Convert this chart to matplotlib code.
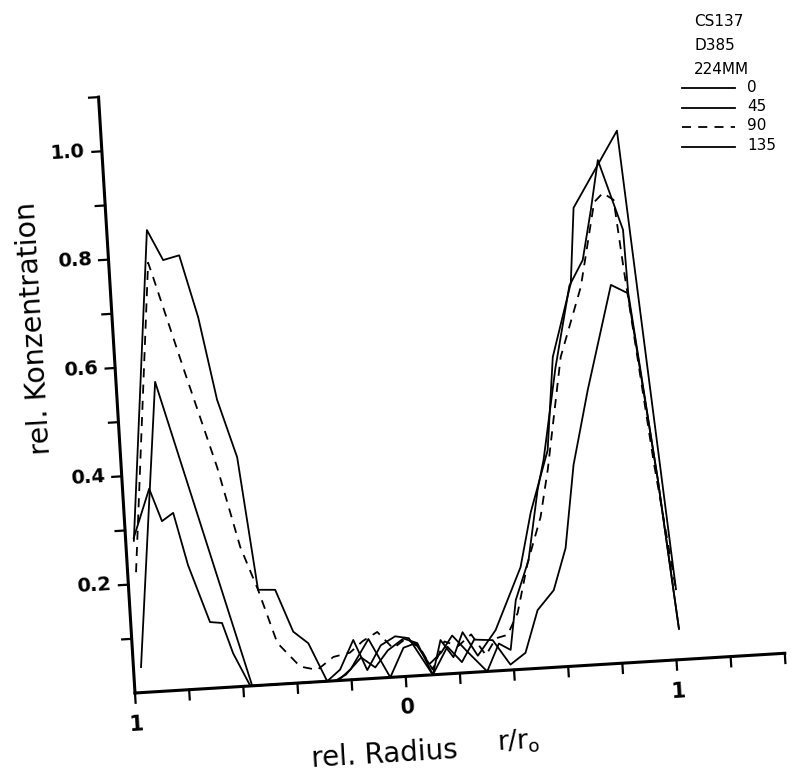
import numpy as np
import matplotlib.pyplot as plt
from matplotlib.transforms import Affine2D

# radial profiles: rel. radius r/r0 (left half negative) vs rel. concentration
r_0 = [-0.97, -0.852, -0.799, -0.739, -0.683, -0.632, -0.571, -0.524, -0.461, -0.404, -0.351,
       -0.29, -0.24, -0.185, -0.14, -0.085, -0.03, 0.02, 0.10, 0.136, 0.18, 0.219, 0.27, 0.341,
       0.447, 0.497, 0.573, 0.613, 0.696, 0.723, 0.90, 1.014]
c_0 = [0.28, 0.85, 0.793, 0.80, 0.684, 0.53, 0.422, 0.176, 0.174, 0.095, 0.072,
       0.0, 0.02, 0.073, 0.016, 0.06, 0.075, 0.07, 0.0, 0.063, 0.03, 0.075, 0.03, 0.075,
       0.188, 0.288, 0.40, 0.571, 0.705, 0.843, 0.98, 0.13]

r_45 = [-0.972, -0.856, -0.567, -0.25, -0.2, -0.129, -0.057, -0.002, 0.043, 0.09, 0.136,
        0.18, 0.23, 0.301, 0.35, 0.392, 0.422, 0.478, 0.527, 0.556, 0.62, 0.69, 0.745, 0.786,
        0.823, 0.90, 0.905, 0.972, 1.016]
c_45 = [0.047, 0.57, 0.0, 0.0, 0.02, 0.073, 0.0, 0.053, 0.06, 0.02, 0.04,
        0.07, 0.04, 0.0, 0.05, 0.037, 0.128, 0.20, 0.328, 0.383, 0.55, 0.70, 0.746, 0.837,
        0.928, 0.797, 0.68, 0.333, 0.057]

r_90 = [-0.969, -0.855, -0.84, -0.744, -0.647, -0.58, -0.524, -0.465, -0.386, -0.324, -0.262,
        -0.2, -0.15, -0.095, -0.04, 0.01, 0.06, 0.10, 0.15, 0.20, 0.25, 0.30, 0.34, 0.384,
        0.426, 0.474, 0.532, 0.569, 0.642, 0.732, 0.80, 0.834, 0.872, 0.894, 0.961, 1.014]
c_90 = [0.222, 0.79, 0.763, 0.583, 0.406, 0.257, 0.176, 0.076, 0.03, 0.022, 0.044,
        0.05, 0.07, 0.085, 0.053, 0.07, 0.05, 0.01, 0.06, 0.05, 0.07, 0.03, 0.06, 0.065,
        0.104, 0.195, 0.278, 0.364, 0.57, 0.697, 0.851, 0.867, 0.853, 0.723, 0.365, 0.13]

r_135 = [-0.97, -0.902, -0.862, -0.819, -0.776, -0.708, -0.664, -0.63, -0.574, -0.26, -0.22,
         -0.16, -0.11, -0.06, 0.0, 0.05, 0.10, 0.16, 0.21, 0.26, 0.328, 0.388, 0.446, 0.50,
         0.564, 0.617, 0.665, 0.734, 0.843, 0.903, 0.972, 1.016]
c_135 = [0.285, 0.374, 0.313, 0.327, 0.229, 0.122, 0.119, 0.062, 0.0, 0.0, 0.01,
         0.04, 0.02, 0.05, 0.07, 0.06, 0.0, 0.05, 0.02, 0.06, 0.057, 0.01, 0.03, 0.107,
         0.142, 0.218, 0.37, 0.506, 0.697, 0.68, 0.333, 0.057]

angles = ['0', '45', '90', '135']
series = [(r_0, c_0), (r_45, c_45), (r_90, c_90), (r_135, c_135)]
styles = ['-', '-', (0, (5, 4)), '-']

x_ticks = [-1.0, -0.8, -0.6, -0.4, -0.2, 0.0, 0.2, 0.4, 0.6, 0.8, 1.0, 1.2, 1.4]
x_labels = {-1.0: '1', 0.0: '0', 1.0: '1'}
y_ticks = [0.1, 0.2, 0.3, 0.4, 0.5, 0.6, 0.7, 0.8, 0.9, 1.0, 1.1]
y_labels = {0.2: '0.2', 0.4: '0.4', 0.6: '0.6', 0.8: '0.8', 1.0: '1.0'}
header = ['CS137', 'D385', '224MM']

W, H = 791, 776
fig = plt.figure(figsize=(W / 100, H / 100), dpi=100)
ox, oy = 135, 83          # pixel position of the origin
ax = fig.add_axes([ox / W, oy / H, 651 / W, 597 / H])
ax.set_xlim(-1, 1.4)
ax.set_ylim(0, 1.1)
ax.axis('off')

# the scanned plot sits slightly rotated on the page
tilt = 3.5
tr = ax.transData + Affine2D().rotate_deg_around(ox, oy, tilt)

for (r, c), st in zip(series, styles):
    ax.plot(r, c, color='black', lw=1.3, linestyle=st, transform=tr, clip_on=False)

# axes with ticks
ax.plot([-1, 1.4], [0, 0], color='black', lw=2.2, transform=tr, clip_on=False)
ax.plot([-1, -1], [0, 1.1], color='black', lw=2.2, transform=tr, clip_on=False)
for t in x_ticks:
    ax.plot([t, t], [0, -0.018], color='black', lw=1.6, transform=tr, clip_on=False)
    if t in x_labels:
        ax.text(t, -0.058, x_labels[t], transform=tr, rotation=tilt, ha='center', va='center',
                fontsize=15, fontweight='bold')
for t in y_ticks:
    ax.plot([-1, -1.035], [t, t], color='black', lw=1.6, transform=tr, clip_on=False)
    if t in y_labels:
        ax.text(-1.06, t, y_labels[t], transform=tr, rotation=tilt, ha='right', va='center',
                fontsize=14, fontweight='bold')

ax.text(-1.29, 0.683, 'rel. Konzentration', transform=tr, rotation=90 + tilt,
        ha='center', va='center', fontsize=20.5)
ax.text(-0.096, -0.142, 'rel. Radius', transform=tr, rotation=tilt,
        ha='center', va='center', fontsize=20)
ax.text(0.40, -0.133, r'$\mathregular{r/r_o}$', transform=tr, rotation=tilt,
        ha='center', va='center', fontsize=19)

# legend block, top right
for i, s in enumerate(header):
    fig.text(694 / W, 1 - (22 + 23.5 * i) / H, s, ha='left', va='center', fontsize=11)
for i, (a, st) in enumerate(zip(angles, styles)):
    yy = 1 - (88 + 19.5 * i) / H
    fig.add_artist(plt.Line2D([682 / W, 735 / W], [yy, yy], color='black', lw=1.3, linestyle=st))
    fig.text(747 / W, yy + 1 / H, a, ha='left', va='center', fontsize=11)

fig.savefig('out.png', dpi=100, facecolor='white')
